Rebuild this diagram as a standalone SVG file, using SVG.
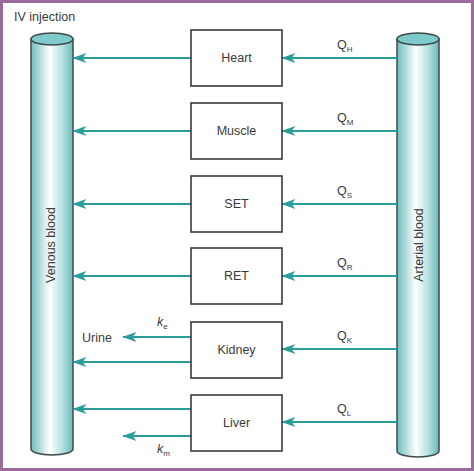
<svg xmlns="http://www.w3.org/2000/svg" width="474" height="471" viewBox="0 0 474 471">
<style>
text{font-family:"Liberation Sans","DejaVu Sans",sans-serif;fill:#3a3a3a}
.lbl{font-size:12.5px}
.box{fill:#fff;stroke:#3a3a3a;stroke-width:1.6}
.ln{stroke:#2a9d9a;stroke-width:2;fill:none}
.cyl{fill:url(#cg);stroke:#3f4a4a;stroke-width:1.5}
.top{fill:#7fcaca;stroke:#3f4a4a;stroke-width:1.5}
.sub{font-size:8px}
</style>
<defs>
<linearGradient id="cg" x1="0" x2="1" y1="0" y2="0">
<stop offset="0" stop-color="#6fbcbc"/>
<stop offset="0.45" stop-color="#ffffff"/>
<stop offset="0.75" stop-color="#b5e0e0"/>
<stop offset="1" stop-color="#6ab8b8"/>
</linearGradient>
<marker id="ah" viewBox="0 0 14 10" refX="13.5" refY="5" markerWidth="14" markerHeight="10" markerUnits="userSpaceOnUse" orient="auto">
<path d="M0,0 L14,5 L0,10 L4,5 Z" fill="#2a9d9a"/>
</marker>
</defs>
<rect x="0" y="0" width="474" height="471" fill="#fff"/>
<rect x="1.5" y="1.5" width="471" height="468" fill="none" stroke="#9b6b9b" stroke-width="3"/>
<text x="14" y="21" font-size="12.5">IV injection</text>

<g id="venous">
<path class="cyl" d="M31,39 L31,449 A21,6 0 0 0 73,449 L73,39 Z"/>
<ellipse class="top" cx="52" cy="39" rx="21" ry="6"/>
<text class="lbl" transform="translate(55,245) rotate(-90)" text-anchor="middle">Venous blood</text>
</g>
<g id="arterial">
<path class="cyl" d="M397,39 L397,451 A21,6 0 0 0 439,451 L439,39 Z"/>
<ellipse class="top" cx="418" cy="39" rx="21" ry="6"/>
<text class="lbl" transform="translate(423,245) rotate(-90)" text-anchor="middle">Arterial blood</text>
</g>

<g id="connectors">
<line class="ln" x1="397" y1="58" x2="282" y2="58" marker-end="url(#ah)"/>
<line class="ln" x1="191" y1="58" x2="73" y2="58" marker-end="url(#ah)"/>
<line class="ln" x1="397" y1="131" x2="282" y2="131" marker-end="url(#ah)"/>
<line class="ln" x1="191" y1="131" x2="73" y2="131" marker-end="url(#ah)"/>
<line class="ln" x1="397" y1="204" x2="282" y2="204" marker-end="url(#ah)"/>
<line class="ln" x1="191" y1="204" x2="73" y2="204" marker-end="url(#ah)"/>
<line class="ln" x1="397" y1="276" x2="282" y2="276" marker-end="url(#ah)"/>
<line class="ln" x1="191" y1="276" x2="73" y2="276" marker-end="url(#ah)"/>
<line class="ln" x1="397" y1="349" x2="282" y2="349" marker-end="url(#ah)"/>
<line class="ln" x1="191" y1="337" x2="123" y2="337" marker-end="url(#ah)"/>
<line class="ln" x1="191" y1="362" x2="73" y2="362" marker-end="url(#ah)"/>
<line class="ln" x1="397" y1="422" x2="282" y2="422" marker-end="url(#ah)"/>
<line class="ln" x1="191" y1="409" x2="73" y2="409" marker-end="url(#ah)"/>
<line class="ln" x1="191" y1="436" x2="123" y2="436" marker-end="url(#ah)"/>
<text class="lbl" x="337" y="49">Q<tspan class="sub" dy="3">H</tspan></text>
<text class="lbl" x="337" y="122">Q<tspan class="sub" dy="3">M</tspan></text>
<text class="lbl" x="337" y="195">Q<tspan class="sub" dy="3">S</tspan></text>
<text class="lbl" x="337" y="267">Q<tspan class="sub" dy="3">R</tspan></text>
<text class="lbl" x="337" y="340">Q<tspan class="sub" dy="3">K</tspan></text>
<text class="lbl" x="337" y="413">Q<tspan class="sub" dy="3">L</tspan></text>
<text class="lbl" x="157" y="326" font-style="italic">k<tspan class="sub" dy="3" font-style="normal">e</tspan></text>
<text class="lbl" x="157" y="453" font-style="italic">k<tspan class="sub" dy="3" font-style="normal">m</tspan></text>
<text class="lbl" x="82" y="342">Urine</text>
</g>

<g id="heart"><rect class="box" x="191" y="30" width="91" height="56"/><text class="lbl" x="236.5" y="62" text-anchor="middle">Heart</text></g>
<g id="muscle"><rect class="box" x="191" y="103" width="91" height="56"/><text class="lbl" x="236.5" y="135" text-anchor="middle">Muscle</text></g>
<g id="set"><rect class="box" x="191" y="176" width="91" height="56"/><text class="lbl" x="236.5" y="208" text-anchor="middle">SET</text></g>
<g id="ret"><rect class="box" x="191" y="248" width="91" height="56"/><text class="lbl" x="236.5" y="280" text-anchor="middle">RET</text></g>
<g id="kidney"><rect class="box" x="191" y="322" width="91" height="56"/><text class="lbl" x="236.5" y="354" text-anchor="middle">Kidney</text></g>
<g id="liver"><rect class="box" x="191" y="395" width="91" height="56"/><text class="lbl" x="236.5" y="427" text-anchor="middle">Liver</text></g>
</svg>
